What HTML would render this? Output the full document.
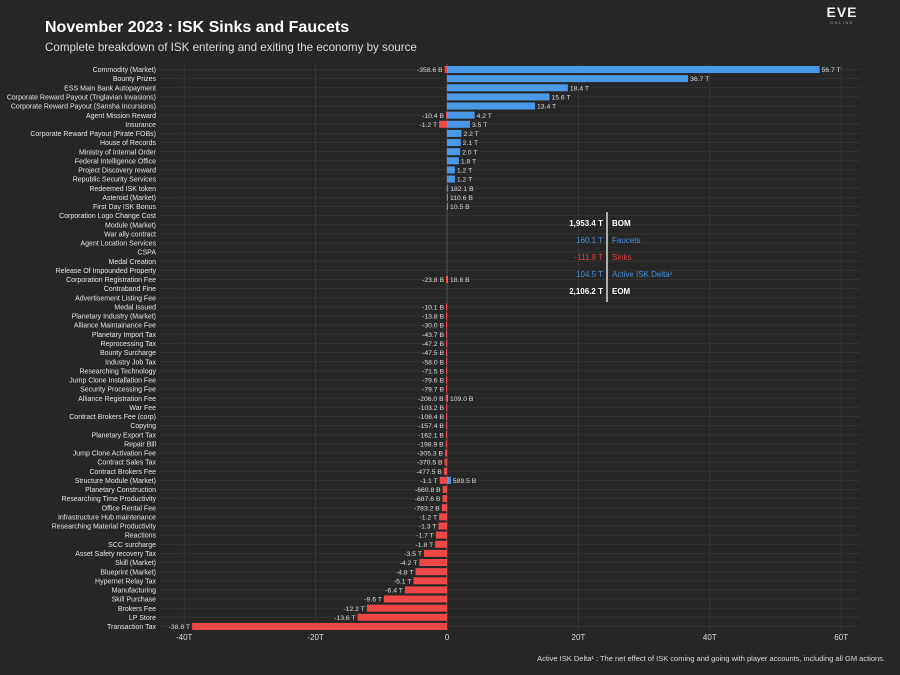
<!DOCTYPE html>
<html><head><meta charset="utf-8"><style>
body{margin:0;background:#262626;}
svg{display:block;font-family:"Liberation Sans",sans-serif;}
</style></head><body>
<svg id="c" width="900" height="675" xmlns="http://www.w3.org/2000/svg">
<rect width="900" height="675" fill="#262626"/>
<text x="45" y="32" fill="#fff" font-size="16" font-weight="bold">November 2023 : ISK Sinks and Faucets</text>
<text x="45" y="51" fill="#ddd" font-size="11.6">Complete breakdown of ISK entering and exiting the economy by source</text>
<g><text x="842" y="17" fill="#eee" font-size="14" font-weight="bold" text-anchor="middle" letter-spacing="1">EVE</text><text x="842" y="24" fill="#aaa" font-size="4" text-anchor="middle" letter-spacing="1.5">ONLINE</text></g>
<g id="grid"></g><g id="bars"></g><g id="labels"></g>
<g font-size="8">
<line x1="607" y1="212" x2="607" y2="302" stroke="#ddd" stroke-width="1.5"/>
<text x="603" y="226" fill="#fff" font-weight="bold" text-anchor="end">1,953.4 T</text><text x="612" y="226" fill="#fff" font-weight="bold">BOM</text>
<text x="603" y="243" fill="#4a90d9" text-anchor="end">160.1 T</text><text x="612" y="243" fill="#4a90d9">Faucets</text>
<text x="603" y="260" fill="#e04040" text-anchor="end">-111.8 T</text><text x="612" y="260" fill="#e04040">Sinks</text>
<text x="603" y="277" fill="#4a90d9" text-anchor="end">104.5 T</text><text x="612" y="277" fill="#4a90d9">Active ISK Delta¹</text>
<text x="603" y="294" fill="#fff" font-weight="bold" text-anchor="end">2,106.2 T</text><text x="612" y="294" fill="#fff" font-weight="bold">EOM</text>
</g>
<text x="885" y="661" fill="#ddd" font-size="7.5" text-anchor="end">Active ISK Delta¹ : The net effect of ISK coming and going with player accounts, including all GM actions.</text>
</svg>
<script>
const categories=["Commodity (Market)","Bounty Prizes","ESS Main Bank Autopayment","Corporate Reward Payout (Triglavian Invasions)","Corporate Reward Payout (Sansha Incursions)","Agent Mission Reward","Insurance","Corporate Reward Payout (Pirate FOBs)","House of Records","Ministry of Internal Order","Federal Intelligence Office","Project Discovery reward","Republic Security Services","Redeemed ISK token","Asteroid (Market)","First Day ISK Bonus","Corporation Logo Change Cost","Module (Market)","War ally contract","Agent Location Services","CSPA","Medal Creation","Release Of Impounded Property","Corporation Registration Fee","Contraband Fine","Advertisement Listing Fee","Medal Issued","Planetary Industry (Market)","Alliance Maintainance Fee","Planetary Import Tax","Reprocessing Tax","Bounty Surcharge","Industry Job Tax","Researching Technology","Jump Clone Installation Fee","Security Processing Fee","Alliance Registration Fee","War Fee","Contract Brokers Fee (corp)","Copying","Planetary Export Tax","Repair Bill","Jump Clone Activation Fee","Contract Sales Tax","Contract Brokers Fee","Structure Module (Market)","Planetary Construction","Researching Time Productivity","Office Rental Fee","Infrastructure Hub maintenance","Researching Material Productivity","Reactions","SCC surcharge","Asset Safety recovery Tax","Skill (Market)","Blueprint (Market)","Hypernet Relay Tax","Manufacturing","Skill Purchase","Brokers Fee","LP Store","Transaction Tax"];
const faucets=[56.7,36.7,18.4,15.6,13.4,4.2,3.5,2.2,2.1,2.0,1.8,1.2,1.2,0.1821,0.1106,0.0105,0,0,0,0,0,0,0,0.0188,0,0,0,0,0,0,0,0,0,0,0,0,0.109,0,0,0,0,0,0,0,0,0.5895,0,0,0,0,0,0,0,0,0,0,0,0,0,0,0,0];
const sinks=[-0.3586,0,0,0,0,-0.0104,-1.2,0,0,0,0,0,0,0,0,0,0,0,0,0,0,0,0,-0.0238,0,0,-0.0101,-0.0138,-0.030,-0.0437,-0.0472,-0.0475,-0.058,-0.0715,-0.0796,-0.0797,-0.206,-0.1032,-0.1084,-0.1574,-0.1621,-0.1989,-0.3053,-0.3705,-0.4775,-1.1,-0.6608,-0.6876,-0.7832,-1.2,-1.3,-1.7,-1.8,-3.5,-4.2,-4.8,-5.1,-6.4,-9.6,-12.2,-13.6,-38.8];
const faucetLabels=["56.7 T","36.7 T","18.4 T","15.6 T","13.4 T","4.2 T","3.5 T","2.2 T","2.1 T","2.0 T","1.8 T","1.2 T","1.2 T","182.1 B","110.6 B","10.5 B","","","","","","","","18.8 B","","","","","","","","","","","","","109.0 B","","","","","","","","","589.5 B","","","","","","","","","","","","","","","",""];
const sinkLabels=["-358.6 B","","","","","-10.4 B","-1.2 T","","","","","","","","","","","","","","","","","-23.8 B","","","-10.1 B","-13.8 B","-30.0 B","-43.7 B","-47.2 B","-47.5 B","-58.0 B","-71.5 B","-79.6 B","-79.7 B","-206.0 B","-103.2 B","-108.4 B","-157.4 B","-162.1 B","-198.9 B","-305.3 B","-370.5 B","-477.5 B","-1.1 T","-660.8 B","-687.6 B","-783.2 B","-1.2 T","-1.3 T","-1.7 T","-1.8 T","-3.5 T","-4.2 T","-4.8 T","-5.1 T","-6.4 T","-9.6 T","-12.2 T","-13.6 T","-38.8 T"];
const tickValues=[-40,-20,0,20,40,60];
const tickLabels=["-40T","-20T","0","20T","40T","60T"];
const NS="http://www.w3.org/2000/svg";
const x=v=>447+v*6.57;
const y=i=>69.5+i*9.13;
function mk(t,a,p){const e=document.createElementNS(NS,t);for(const k in a)e.setAttribute(k,a[k]);p.appendChild(e);return e;}
const grid=document.getElementById('grid'),bars=document.getElementById('bars'),labs=document.getElementById('labels');
categories.forEach((c,i)=>{
  const g=mk('line',{x1:160,x2:860,y1:y(i),y2:y(i),stroke:'#333','stroke-width':1},grid);
  
  
  const t=mk('text',{x:156,y:y(i)+2.6,fill:'#e8e8e8','font-size':7,'text-anchor':'end'},labs);
  t.textContent=c;
  
  
});
tickValues.forEach((v,k)=>{
  const l=mk('line',{x1:x(v),x2:x(v),y1:64,y2:630,stroke:'#363636','stroke-width':1},grid);
  
  
  const t=mk('text',{x:x(v),y:640,fill:'#ddd','font-size':8,'text-anchor':'middle'},labs);
  t.textContent=tickLabels[k];
  
  
});
const z=mk('line',{x1:x(0),x2:x(0),y1:64,y2:630,stroke:'#555','stroke-width':1},grid);


categories.forEach((c,i)=>{
  const h=7,yy=y(i)-h/2;
  if(faucets[i]>0){
    const w=Math.max(1,x(faucets[i])-x(0));
    const r=mk('rect',{x:x(0),y:yy,width:w,height:h,fill:'#4a98e8'},bars);
    
    
  }
  if(faucetLabels[i]){
    const t=mk('text',{x:x(0)+Math.max(1,x(faucets[i])-x(0))+2,y:y(i)+2.6,fill:'#ddd','font-size':6.8},labs);
    t.textContent=faucetLabels[i];
    
    
  }
  if(sinks[i]<0){
    const w=Math.max(1,x(0)-x(sinks[i]));
    const r=mk('rect',{x:x(0)-w,y:yy,width:w,height:h,fill:'#f04848'},bars);
    
    
  }
  if(sinkLabels[i]){
    const w=Math.max(1,x(0)-x(sinks[i]));
    const t=mk('text',{x:x(0)-w-2,y:y(i)+2.6,fill:'#ddd','font-size':6.8,'text-anchor':'end'},labs);
    t.textContent=sinkLabels[i];
    
    
  }
});
</script>
</body></html>
